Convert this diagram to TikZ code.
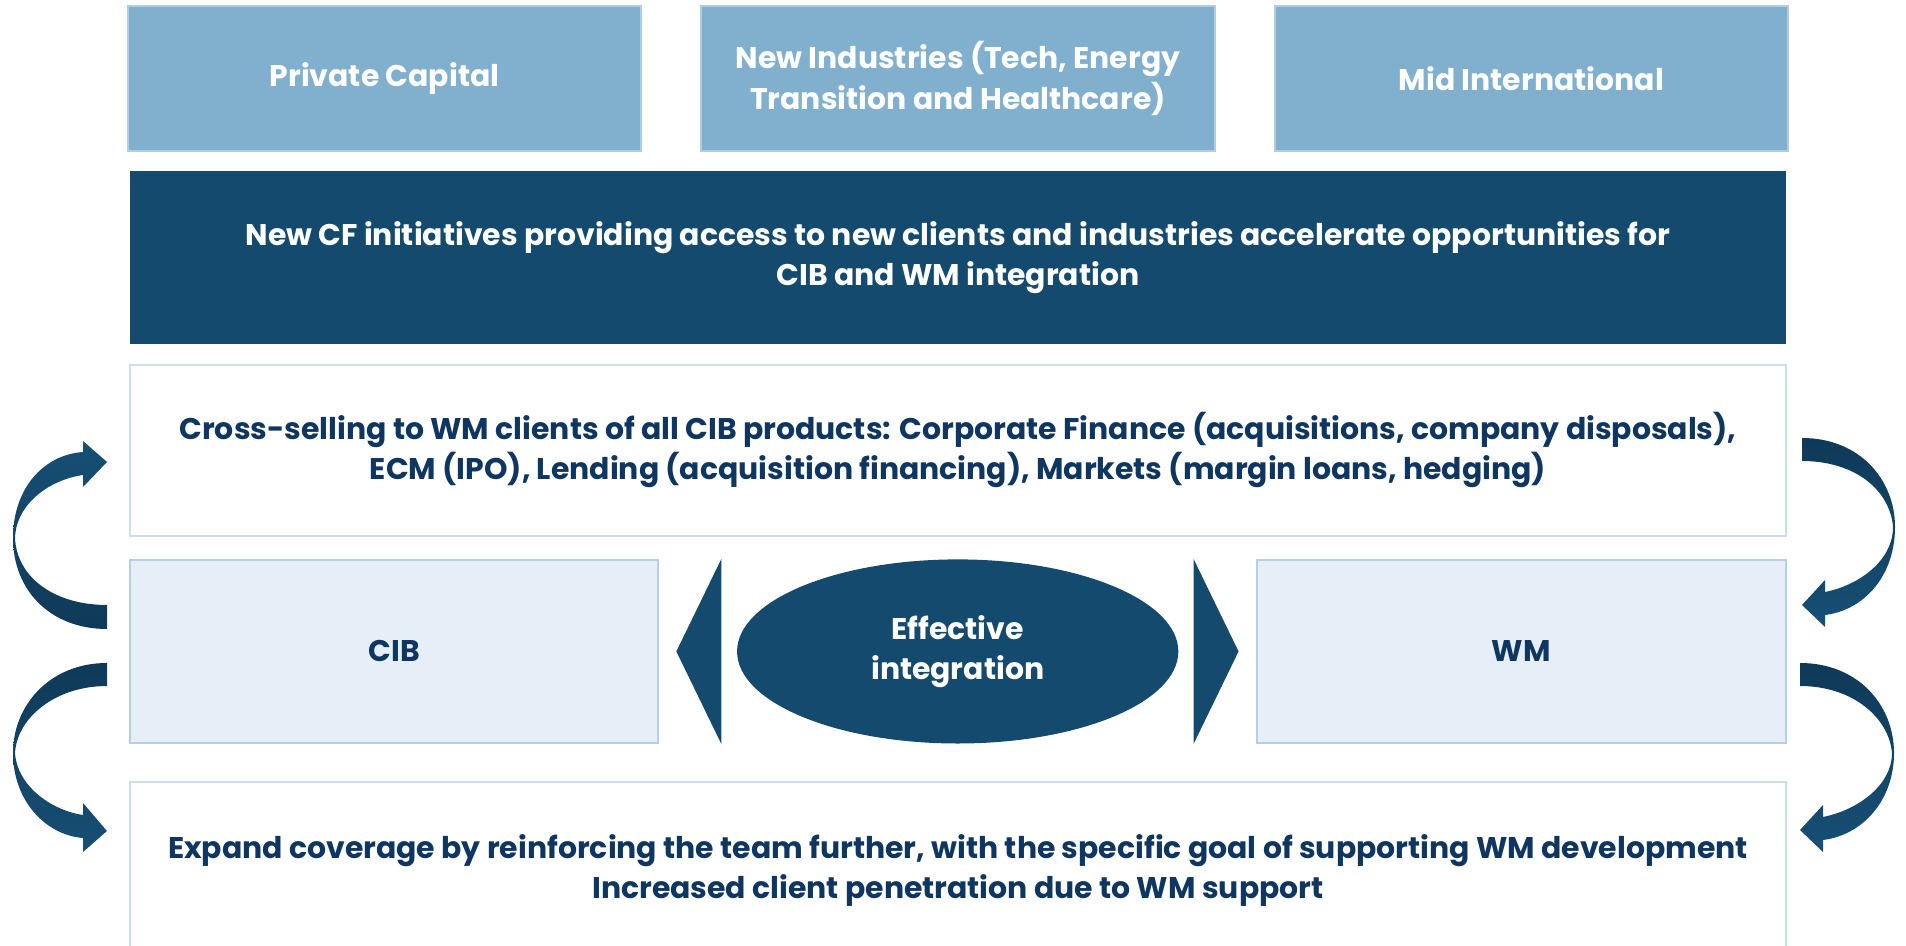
\documentclass[tikz,border=0pt]{standalone}
\usepackage{fontspec}
\setmainfont{Poppins}
\usepackage{tikz}
\usetikzlibrary{positioning, shapes.geometric, calc}
\definecolor{cfnavy}{RGB}{20,74,110}
\definecolor{cfsky}{RGB}{128,176,206}
\definecolor{cfskyline}{RGB}{176,206,226}
\definecolor{cfpale}{RGB}{230,239,247}
\definecolor{cfpaleline}{RGB}{182,207,226}
\definecolor{cfedge}{RGB}{202,222,237}
\definecolor{cftext}{RGB}{14,54,96}
\definecolor{cfarrowdark}{RGB}{15,57,88}
\definecolor{cfarrowlight}{RGB}{23,79,117}
\newcommand{\cffont}{\bfseries\fontsize{8.5}{11.4}\selectfont}
\tikzset{
  topblock/.style={
    rectangle, draw=cfskyline, line width=0.6pt, fill=cfsky,
    text=white, minimum width=5.13cm, minimum height=1.45cm,
    align=center, font=\cffont, inner sep=0pt
  },
  bannerblock/.style={
    rectangle, draw=none, fill=cfnavy, text=white,
    minimum width=16.55cm, minimum height=1.73cm,
    align=center, font=\cffont, inner sep=0pt
  },
  openblock/.style={
    rectangle, draw=cfedge, line width=0.6pt, fill=white,
    text=cftext, minimum width=16.55cm, minimum height=1.71cm,
    align=center, font=\cffont, inner sep=0pt
  },
  sideblock/.style={
    rectangle, draw=cfpaleline, line width=0.6pt, fill=cfpale,
    text=cftext, minimum width=5.28cm, minimum height=1.83cm,
    align=center, font=\cffont, inner sep=0pt
  },
  hub/.style={
    ellipse, draw=none, fill=cfnavy, text=white,
    minimum width=4.41cm, minimum height=1.84cm,
    align=center, font=\cffont, inner sep=0pt
  },
  pointer/.style={fill=cfnavy, draw=none}
}

\begin{document}
\begin{tikzpicture}[x=0.01cm, y=-0.01cm]
\useasboundingbox (0,0) rectangle (1906,946);

% Top row
\node[topblock] (pc) at (384.5,78.5) {Private Capital};
\node[topblock, right=0.58cm of pc] (newind) {New Industries (Tech, Energy\\Transition and Healthcare)};
\node[topblock, right=0.58cm of newind] (midint) {Mid International};

% Banner
\node[bannerblock, below=0.18cm of newind] (banner) {New CF initiatives providing access to new clients and industries accelerate opportunities for\\CIB and WM integration};

% Cross-selling
\node[openblock, below=0.19cm of banner] (cross) {Cross-selling to WM clients of all CIB products: Corporate Finance (acquisitions, company disposals),\\ECM (IPO), Lending (acquisition financing), Markets (margin loans, hedging)};

% CIB / WM
\node[sideblock, below right=0.22cm and 0cm of cross.south west] (cib) {CIB};
\node[sideblock, minimum width=5.29cm, below left=0.22cm and 0cm of cross.south east] (wm) {WM};
\node[hub] (eff) at ($(cib)!0.5!(wm)$) {Effective\\integration};
\fill[pointer] ([xshift=0.62cm]cib.north east) -- ([xshift=0.17cm]cib.east) -- ([xshift=0.62cm]cib.south east) -- cycle;
\fill[pointer] ([xshift=-0.62cm]wm.north west) -- ([xshift=-0.17cm]wm.west) -- ([xshift=-0.62cm]wm.south west) -- cycle;

% Expand coverage
\node[openblock, minimum height=1.76cm, below right=0.37cm and 0cm of cib.south west] (expand) {Expand coverage by reinforcing the team further, with the specific goal of supporting WM development\\Increased client penetration due to WM support};

% Curved arrows, left side
\shade[top color=cfarrowlight, bottom color=cfarrowdark]
  (107,629) .. controls (50,629) and (13,590) .. (13,538)
  .. controls (13,490) and (42,455) .. (83,452)
  -- (83,441) -- (107,462) -- (83,487) -- (83,475)
  .. controls (48,480) and (16,505) .. (15,538)
  .. controls (17,578) and (55,605) .. (107,605) -- cycle;
\shade[top color=cfarrowdark, bottom color=cfarrowlight]
  (107,663) .. controls (50,663) and (13,705) .. (13,753)
  .. controls (13,800) and (45,835) .. (83,838)
  -- (83,852) -- (107,831) -- (83,803) -- (83,815)
  .. controls (50,810) and (17,785) .. (15,753)
  .. controls (17,718) and (55,686) .. (107,686) -- cycle;

% Curved arrows, right side
\shade[top color=cfarrowdark, bottom color=cfarrowlight]
  (1802,438) .. controls (1860,438) and (1895,480) .. (1895,527)
  .. controls (1895,575) and (1865,610) .. (1825,615)
  -- (1825,627) -- (1802,605) -- (1825,580) -- (1825,592)
  .. controls (1860,585) and (1893,560) .. (1893,527)
  .. controls (1890,490) and (1855,461) .. (1802,461) -- cycle;
\shade[top color=cfarrowdark, bottom color=cfarrowlight]
  (1800,663) .. controls (1858,663) and (1894,705) .. (1894,753)
  .. controls (1894,800) and (1863,835) .. (1823,840)
  -- (1823,852) -- (1800,830) -- (1823,805) -- (1823,817)
  .. controls (1858,810) and (1892,785) .. (1892,753)
  .. controls (1889,718) and (1853,686) .. (1800,686) -- cycle;

\end{tikzpicture}
\end{document}
